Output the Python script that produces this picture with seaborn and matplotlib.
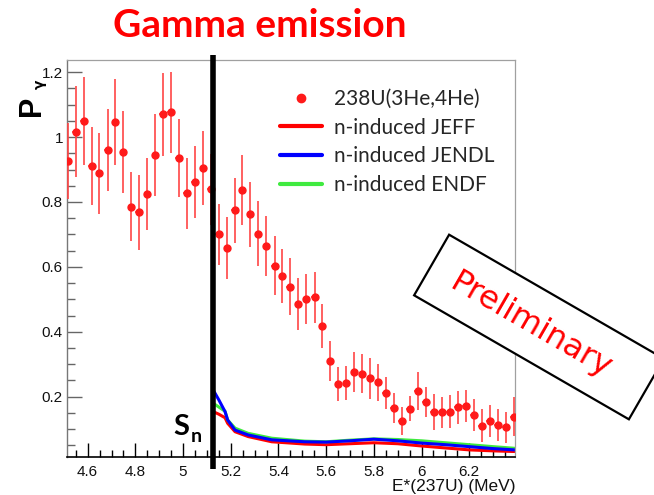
import matplotlib
matplotlib.use("Agg")
import matplotlib.pyplot as plt
import seaborn as sns
import pandas as pd
from matplotlib.patches import Rectangle
from matplotlib.transforms import Affine2D, blended_transform_factory
from matplotlib.lines import Line2D
from matplotlib.ticker import MultipleLocator, FuncFormatter

# ---------------- data ----------------
e_data = [4.519, 4.550, 4.583, 4.618, 4.649, 4.684, 4.716, 4.749, 4.782, 4.815,
          4.850, 4.883, 4.916, 4.949, 4.983, 5.016, 5.050, 5.085, 5.116, 5.151,
          5.185, 5.216, 5.248, 5.282, 5.315, 5.349, 5.384, 5.416, 5.448, 5.483,
          5.517, 5.552, 5.584, 5.617, 5.651, 5.684, 5.718, 5.752, 5.785, 5.818,
          5.851, 5.884, 5.918, 5.950, 5.984, 6.017, 6.051, 6.084, 6.118, 6.151,
          6.185, 6.218, 6.252, 6.286, 6.319, 6.353, 6.386]
p_data = [0.926, 1.017, 1.050, 0.912, 0.888, 0.961, 1.047, 0.955, 0.786, 0.768,
          0.825, 0.944, 1.070, 1.076, 0.936, 0.827, 0.862, 0.905, 0.839, 0.701,
          0.658, 0.775, 0.837, 0.762, 0.702, 0.664, 0.604, 0.572, 0.539, 0.485,
          0.501, 0.506, 0.418, 0.309, 0.238, 0.243, 0.276, 0.271, 0.257, 0.245,
          0.212, 0.164, 0.125, 0.163, 0.217, 0.184, 0.153, 0.152, 0.154, 0.167,
          0.172, 0.143, 0.110, 0.126, 0.113, 0.105, 0.138]
p_err = [0.117, 0.139, 0.136, 0.120, 0.125, 0.127, 0.132, 0.126, 0.107, 0.116,
         0.111, 0.126, 0.128, 0.125, 0.120, 0.110, 0.111, 0.113, 0.110, 0.094,
         0.096, 0.100, 0.108, 0.100, 0.100, 0.093, 0.090, 0.083, 0.088, 0.080,
         0.077, 0.078, 0.068, 0.062, 0.052, 0.053, 0.062, 0.060, 0.063, 0.057,
         0.050, 0.046, 0.042, 0.039, 0.058, 0.047, 0.056, 0.048, 0.050, 0.052,
         0.050, 0.049, 0.051, 0.049, 0.049, 0.049, 0.060]
e_half_bin = 0.015

e_model = [5.126, 5.150, 5.176, 5.187, 5.218, 5.273, 5.372, 5.510, 5.600, 5.700,
           5.800, 5.900, 6.000, 6.100, 6.200, 6.300, 6.390]
p_jeff = [0.154, 0.146, 0.135, 0.118, 0.092, 0.077, 0.061, 0.054, 0.052, 0.055,
          0.058, 0.055, 0.048, 0.042, 0.036, 0.033, 0.031]
p_jendl = [0.221, 0.190, 0.154, 0.128, 0.097, 0.082, 0.067, 0.061, 0.060, 0.064,
           0.069, 0.064, 0.057, 0.052, 0.046, 0.040, 0.036]
p_endf = [0.180, 0.168, 0.155, 0.128, 0.103, 0.087, 0.072, 0.063, 0.061, 0.066,
          0.070, 0.068, 0.064, 0.058, 0.052, 0.046, 0.041]

sn_energy = 5.126

labels = ["238U(3He,4He)", "n-induced JEFF", "n-induced JENDL", "n-induced ENDF"]
colors = {"data": "#ff1a1a", "JEFF": "#ff0000", "JENDL": "#0000ff", "ENDF": "#3fea3f"}

x_ticks = [4.6, 4.8, 5.0, 5.2, 5.4, 5.6, 5.8, 6.0, 6.2]
y_ticks = [0.2, 0.4, 0.6, 0.8, 1.0, 1.2]

# ---------------- style ----------------
sns.set_theme(style="white")
plt.rcParams["font.family"] = ["Liberation Sans", "DejaVu Sans"]

W, H = 654, 495
fig = plt.figure(figsize=(W / 100, H / 100), dpi=100)
ax_l, ax_r, ax_t, ax_b = 66.7, 515.0, 60.0, 456.7
ax = fig.add_axes([ax_l / W, 1 - ax_b / H, (ax_r - ax_l) / W, (ax_b - ax_t) / H])

df_model = pd.DataFrame({"E": e_model, "JEFF": p_jeff, "JENDL": p_jendl, "ENDF": p_endf})

# model curves
for key in ["JEFF", "ENDF", "JENDL"]:
    sns.lineplot(data=df_model, x="E", y=key, color=colors[key], lw=2.2,
                 ax=ax, legend=False, zorder=2)

# data points with error bars
ax.errorbar(e_data, p_data, yerr=p_err, xerr=e_half_bin, fmt="o", ms=5,
            color=colors["data"], ecolor="#ff4545", elinewidth=1.2,
            capsize=0, zorder=3)

# neutron separation energy line
trans = blended_transform_factory(ax.transData, ax.transAxes)
ax.plot([sn_energy, sn_energy], [-0.031, 1.013], transform=trans,
        color="black", lw=4, clip_on=False, zorder=6, solid_capstyle="butt")

ax.set_xlim(4.512, 6.392)
ax.set_ylim(0.015, 1.2376)
ax.set_xticks(x_ticks)
ax.set_yticks(y_ticks)
ax.xaxis.set_minor_locator(MultipleLocator(0.05))
ax.yaxis.set_minor_locator(MultipleLocator(0.05))
fmt = FuncFormatter(lambda v, p: "%g" % round(v, 3))
ax.xaxis.set_major_formatter(fmt)
ax.yaxis.set_major_formatter(fmt)
ax.tick_params(axis="x", which="major", direction="in", length=10, width=1,
               color="black", labelsize=11, pad=6, labelcolor="#111111",
               bottom=True, top=False)
ax.tick_params(axis="x", which="minor", direction="in", length=5, width=1,
               color="black", bottom=True, top=False)
ax.tick_params(axis="y", which="major", direction="in", length=11, width=1,
               color="#666666", labelsize=11, pad=2.7, labelcolor="#111111",
               left=True, right=False)
ax.tick_params(axis="y", which="minor", direction="in", length=6, width=1,
               color="#666666", left=True, right=False)
ax.set_ylabel("")
ax.set_xlabel("E*(237U) (MeV)", loc="right", fontsize=12.5, labelpad=0,
              color="#111111")

for side in ["top", "right"]:
    ax.spines[side].set_color("#a0a0a0")
    ax.spines[side].set_linewidth(0.9)
ax.spines["left"].set_color("#777777")
ax.spines["left"].set_linewidth(1)
ax.spines["bottom"].set_color("black")
ax.spines["bottom"].set_linewidth(1.2)

# legend
handles = [
    Line2D([], [], marker="o", ls="none", color=colors["data"], ms=6),
    Line2D([], [], color=colors["JEFF"], lw=3),
    Line2D([], [], color=colors["JENDL"], lw=3),
    Line2D([], [], color=colors["ENDF"], lw=3),
]
ax.legend(handles, labels, loc="upper left", bbox_to_anchor=(280 / W, 1 - 89 / H),
          bbox_transform=fig.transFigure, frameon=False,
          prop={"family": "Lato", "size": 15}, handlelength=2.0,
          handletextpad=0.6, labelspacing=0.42, borderpad=0, borderaxespad=0)

# title
fig.text(260 / W, 1 - 37 / H, "Gamma emission", color="red", fontsize=28,
         fontweight="bold", family="Lato", ha="center", va="baseline")

# y label P_gamma
fig.text(32.5 / W, 1 - 106 / H, "P", rotation=90, fontsize=22, fontweight="bold",
         family="Liberation Sans", ha="center", va="center", color="black")
fig.text(39.5 / W, 1 - 84 / H, "γ", rotation=90, fontsize=10, fontweight="bold",
         family="DejaVu Sans", ha="center", va="center", color="black")

# S_n label
fig.text(173 / W, 1 - 435 / H, "S", fontsize=21, fontweight="bold", family="Lato",
         ha="left", va="baseline", color="black")
fig.text(191 / W, 1 - 442 / H, "n", fontsize=14, fontweight="bold", family="Lato",
         ha="left", va="baseline", color="black")

# Preliminary stamp
cx, cy, bw, bh = 5.39, (H - 327) / 100, 2.48, 0.70
rect = Rectangle((cx - bw / 2, cy - bh / 2), bw, bh, facecolor="white",
                 edgecolor="black", lw=1.6,
                 transform=Affine2D().rotate_deg_around(cx, cy, -30) + fig.dpi_scale_trans,
                 zorder=10)
fig.add_artist(rect)
fig.text(531 / W, 1 - 326 / H, "Preliminary", rotation=-30, rotation_mode="anchor",
         ha="center", va="center", color="red", fontsize=23, family="DejaVu Sans",
         zorder=11)

fig.savefig("out.png", dpi=100)
